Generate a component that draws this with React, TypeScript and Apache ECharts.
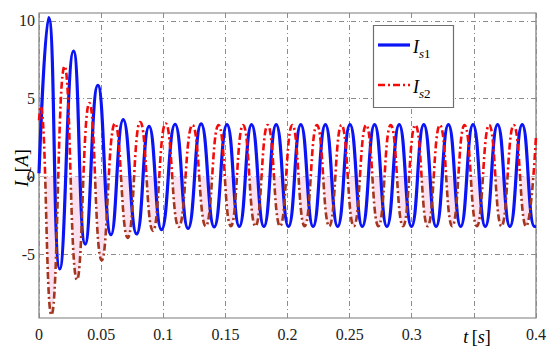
import React, { useEffect, useRef } from 'react';
import * as echarts from 'echarts';

// Time axis ticks and labels
const xTicks = [0, 0.05, 0.1, 0.15, 0.2, 0.25, 0.3, 0.35, 0.4];
const xTickLabels = ['0', '0.05', '0.1', '0.15', '0.2', '0.25', '0.3', '', '0.4'];
const yTicks = [-5, 0, 5, 10];
const yTickLabels = ['-5', '0', '5', '10'];

// Is1: extrema (time [s], current [A])
const is1T = [0, 0.0078, 0.0167, 0.0278, 0.0372, 0.0474, 0.058, 0.0678, 0.0786, 0.0886, 0.0986, 0.1095, 0.12, 0.1305, 0.141,
  0.1513, 0.1612, 0.1711, 0.181, 0.1909, 0.2008, 0.2107, 0.2206, 0.2305, 0.2404, 0.2503, 0.2602, 0.2701, 0.28,
  0.2899, 0.2998, 0.3097, 0.3196, 0.3295, 0.3394, 0.3493, 0.3592, 0.3691, 0.379, 0.3889, 0.3988, 0.4];
const is1V = [0.2, 10.2, -5.95, 8.05, -4.35, 5.85, -3.75, 3.65, -3.7, 3.22, -3.43, 3.35, -3.35, 3.38, -3.25,
  3.33, -3.22, 3.33, -3.22, 3.33, -3.22, 3.33, -3.22, 3.33, -3.22, 3.33, -3.22, 3.33, -3.22,
  3.33, -3.22, 3.33, -3.22, 3.33, -3.22, 3.33, -3.22, 3.33, -3.22, 3.33, -3.22, -3.2];

// Is2: extrema
const is2T = [0, 0.0012, 0.01, 0.0206, 0.0306, 0.0406, 0.0505, 0.0612, 0.0714, 0.0815, 0.0917, 0.102, 0.1125, 0.1235, 0.1342,
  0.1445, 0.1544, 0.1643, 0.1742, 0.1841, 0.194, 0.2039, 0.2138, 0.2237, 0.2336, 0.2435, 0.2534, 0.2633, 0.2732,
  0.2831, 0.293, 0.3029, 0.3128, 0.3227, 0.3326, 0.3425, 0.3524, 0.3623, 0.3722, 0.3821, 0.392, 0.4];
const is2V = [3.6, 4.5, -8.9, 7.08, -6.65, 4.72, -5.4, 3.4, -3.95, 3.5, -3.5, 3.4, -3.25, 3.3, -3.2,
  3.3, -3.2, 3.3, -3.2, 3.3, -3.2, 3.3, -3.2, 3.3, -3.2, 3.3, -3.2, 3.3, -3.2,
  3.3, -3.2, 3.3, -3.2, 3.3, -3.2, 3.3, -3.2, 3.3, -3.2, 3.3, -3.2, 2.6];

const SERIF = 'Liberation Serif';
const W = 550;
const H = 359;

export default function App() {
  const ref = useRef<HTMLDivElement>(null);
  useEffect(() => {
    if (!ref.current) return;
    const chart = echarts.init(ref.current, null, { renderer: 'svg' });
    const gridStyle = { color: '#8c8c8c', width: 1, type: [5, 3, 1, 3] as any };
    const richBase = {
      i: { fontFamily: SERIF, fontStyle: 'italic', fontSize: 18, lineHeight: 20, color: '#222' },
      n: { fontFamily: SERIF, fontSize: 18, lineHeight: 20, color: '#222' },
      si: { fontFamily: SERIF, fontStyle: 'italic', fontSize: 13, lineHeight: 26, verticalAlign: 'bottom', color: '#222' },
      sn: { fontFamily: SERIF, fontSize: 13, lineHeight: 26, verticalAlign: 'bottom', color: '#222' },
    };
    const is2Data = is2T.map((t, k) => [t, is2V[k]]);
    chart.setOption({
      animation: false,
      backgroundColor: '#fff',
      textStyle: { fontFamily: SERIF },
      grid: { left: 39, right: 14, top: 13, bottom: 41, show: true, borderColor: '#7a7a7a', borderWidth: 1.2 },
      xAxis: {
        type: 'value', min: 0, max: 0.4, interval: 0.05,
        axisLine: { show: false }, axisTick: { show: false },
        splitLine: { show: true, lineStyle: gridStyle },
        axisLabel: {
          fontFamily: SERIF, fontSize: 16, color: '#222', margin: 8,
          formatter: (v: number) => {
            const idx = xTicks.findIndex((t) => Math.abs(t - v) < 1e-6);
            return idx >= 0 ? xTickLabels[idx] : '';
          },
        },
      },
      yAxis: {
        type: 'value', min: -9.1, max: 10.5,
        axisLine: { show: false },
        axisTick: { show: false, customValues: yTicks },
        splitLine: { show: true, lineStyle: gridStyle },
        axisLabel: {
          fontFamily: SERIF, fontSize: 16, color: '#222', margin: 4, customValues: yTicks,
          formatter: (v: number) => {
            const idx = yTicks.findIndex((t) => Math.abs(t - v) < 1e-6);
            return idx >= 0 ? yTickLabels[idx] : '';
          },
        },
      },
      series: [
        {
          name: 'Is1', type: 'line', smooth: true, symbol: 'none', z: 3,
          data: is1T.map((t, k) => [t, is1V[k]]),
          lineStyle: { color: '#0a14f5', width: 3.2 },
        },
        {
          name: 'Is2', type: 'line', smooth: true, symbol: 'none', z: 4,
          data: is2Data,
          lineStyle: { color: '#f50a0a', width: 2.6, type: [7, 3, 2, 3] },
        },
        {
          name: 'Is2 halo', type: 'line', smooth: true, symbol: 'none', z: 1, silent: true,
          data: is2Data,
          lineStyle: { width: 0, color: 'rgba(0,0,0,0)' },
          areaStyle: { opacity: 1, origin: 0, color: 'rgba(0,0,0,0)' },
        },
      ],
      graphic: [
        {
          type: 'text', x: 22, y: 168, rotation: Math.PI / 2, z: 10,
          style: { text: '{i|I}{si|s} {n|[}{i|A}{n|]}', rich: richBase, align: 'center', verticalAlign: 'middle' },
        },
        {
          type: 'text', x: 477, y: 337, z: 10,
          style: { text: '{i|t} {n|[}{i|s}{n|]}', rich: richBase, align: 'center', verticalAlign: 'middle' },
        },
        {
          type: 'rect', z: 10, shape: { x: 373.5, y: 25.5, width: 80, height: 82 },
          style: { fill: '#fff', stroke: '#6e6e6e', lineWidth: 1.2 },
        },
        {
          type: 'line', z: 11, shape: { x1: 378, y1: 45, x2: 410, y2: 45 },
          style: { stroke: '#0a14f5', lineWidth: 3.2 },
        },
        {
          type: 'line', z: 11, shape: { x1: 378, y1: 85, x2: 410, y2: 85 },
          style: { stroke: '#f50a0a', lineWidth: 2.6, lineDash: [7, 3, 2, 3] },
        },
        {
          type: 'text', x: 413, y: 47, z: 11,
          style: { text: '{i|I}{si|s}{sn|1}', rich: richBase, align: 'left', verticalAlign: 'middle' },
        },
        {
          type: 'text', x: 413, y: 87, z: 11,
          style: { text: '{i|I}{si|s}{sn|2}', rich: richBase, align: 'left', verticalAlign: 'middle' },
        },
      ],
    });
    // Colour the Is2 trace differently below the zero line, split at the axis' own pixel for 0
    try {
      const p = chart.convertToPixel({ gridIndex: 0 }, [0, 0]) as number[];
      const off = Math.min(0.999, Math.max(0.001, p[1] / H));
      const mk = (top: string, bottom: string) => new echarts.graphic.LinearGradient(0, 0, 0, H, [
        { offset: 0, color: top }, { offset: off, color: top },
        { offset: off, color: bottom }, { offset: 1, color: bottom },
      ], true);
      chart.setOption({
        series: [
          {},
          { lineStyle: { color: mk('#f50a0a', '#a3361c') } },
          { areaStyle: { color: mk('rgba(255,255,255,0)', '#fbe0ef') } },
        ],
      });
    } catch (e) { /* keep plain colours */ }
    return () => chart.dispose();
  }, []);
  return <div ref={ref} style={{ position: 'fixed', left: 0, top: 0, width: W, height: H }} />;
}
